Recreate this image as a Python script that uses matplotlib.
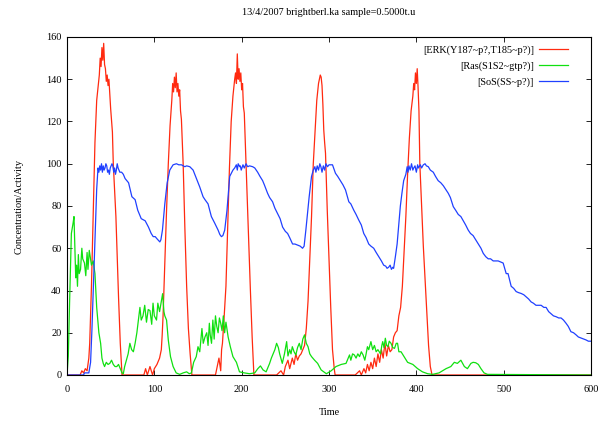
import numpy as np
import matplotlib
matplotlib.use("Agg")
import matplotlib.pyplot as plt

# values (time, level)
erk_t = [0, 15, 17, 19, 21, 23, 25, 26, 28, 30, 32, 34, 36, 37, 38, 39, 40, 41, 42, 43, 44, 45, 46, 47, 48,
         50, 52, 53, 56, 59, 61, 63,
         88, 90, 92, 95, 98, 100, 103, 106, 108, 109, 110, 112, 114, 116, 118, 120, 121, 122, 123, 124, 125,
         126, 127, 128, 129, 130, 131, 132, 133, 135, 137, 139, 141, 143,
         165, 170, 172, 174, 176, 177, 178, 180, 182, 184, 186, 188, 190, 192, 193, 194, 195, 196, 197, 198,
         199, 200, 201, 202, 203, 205, 207.5, 210, 212, 214,
         240, 245, 248, 250, 253, 255, 258, 260, 262, 264, 266, 268, 270, 272, 274, 276, 278, 280, 282, 284,
         286, 288, 289, 290, 291, 292, 293, 294, 295, 296, 298, 300, 302, 304, 306, 307,
         330, 335, 337, 340, 342, 344, 346, 348, 350, 352, 354, 356, 358, 360, 362, 364, 366, 368, 370, 372,
         374, 376, 378, 380, 382, 384, 386, 388, 390, 392, 394, 396, 397, 398, 399, 400, 401, 402, 403,
         404, 406, 408, 410, 412, 414, 416, 418, 600]
erk_v = [0, 0, 2, 1, 3, 2, 8, 15, 42, 75, 110, 130, 138, 142, 150, 146, 155, 149, 157, 147, 145, 139, 142, 137, 140,
         126, 115, 100, 75, 37, 15, 0,
         0, 3, 0, 4, 0, 3, 5, 8, 12, 19, 28, 53, 78, 100, 118, 130, 138, 134, 141, 136, 143,
         134, 138, 132, 135, 125, 121, 110, 100, 69, 42, 22, 10, 0,
         0, 0, 4, 8, 2, 12, 15, 28, 42, 70, 98, 120, 132, 140, 143, 138, 152, 140, 145, 139,
         143, 135, 138, 127, 124, 100, 69, 40, 18, 0,
         0, 2, 0, 4, 7, 3, 8, 5, 10, 7, 9, 10, 12, 14, 22, 35, 55, 75, 100, 115,
         130, 138, 140, 142, 141, 137, 128, 116, 110, 105, 78, 55, 32, 12, 3, 0,
         0, 2, 0, 3, 1, 5, 2, 6, 3, 8, 4, 10, 6, 12, 8, 15, 9, 14, 11, 12,
         18, 20, 21, 28, 32, 42, 58, 75, 95, 112, 125, 132, 138, 135, 143, 138, 145, 136, 125,
         100, 80, 61, 45, 28, 14, 4, 0, 0]

ras_t = [0, 1.5, 3, 5, 7, 8, 9, 10, 11, 12, 13, 14, 15.5, 17, 18, 20, 21.5, 23, 24, 25.5, 27, 28, 30, 32, 34,
         36.5, 38.5, 40, 41.5, 43, 45, 47, 49, 51, 53, 55, 57, 59, 61, 63, 64.5,
         66, 68, 70, 72, 74, 76, 78, 80, 82, 83.5, 85, 87, 89, 91, 93, 95, 97, 98.5, 100, 102.5, 104,
         106, 108, 109.5, 111, 112, 114, 116, 118.5, 121.5, 125, 129, 133, 137, 140, 142.5,
         145, 148, 150, 152, 154.5, 156, 158, 160, 161.5, 163, 164, 165.5, 167, 168.5, 170, 171.5, 173,
         174.5, 176, 177.5, 179, 180.5, 182, 184.5, 187, 190, 194, 197.5, 203, 209, 215, 218.5, 221.5,
         224.5, 228, 232, 234, 236, 238, 240, 242, 243.5, 246.5, 249, 251.5, 253, 255, 256.5, 258,
         260, 262, 264, 266, 268, 270, 272, 274, 276, 278, 280, 283.5, 287, 291, 297, 302.5, 308,
         314, 319.5, 322, 323.5, 325, 327, 329, 331, 333, 335, 337, 339, 341, 342.5, 344, 345.5, 348,
         350, 352, 354, 356, 359, 360.5, 361.5, 363, 364.5, 366, 367.5, 369, 371, 373, 375, 377, 378.5,
         380, 382.5, 386, 390, 396, 401.5, 407, 413, 418.5, 426, 434, 439.5, 443.5, 447, 451, 455,
         458.5, 462.5, 465, 468, 471, 474, 477.5, 481.5, 600]
ras_v = [0, 9, 35, 67, 72, 75, 60, 46, 52, 42, 57, 48, 50, 60, 55, 53, 47, 58, 50, 59, 55, 52, 54, 48, 32,
         20, 15, 8, 5.5, 4, 6, 5, 5.5, 7, 5, 4, 4, 5, 3, 1, 0.6,
         4, 7, 10, 15, 12, 11, 15, 20, 27, 32, 26, 28, 33, 25, 31, 30.5, 24, 34, 28, 26, 34,
         30, 35, 38.5, 30, 28, 26, 16.5, 8.7, 4, 1, 0.3, 1, 1.5, 0.6, 1,
         6, 8.7, 13.4, 11, 22, 15, 18, 20, 14, 24.5, 19, 15, 26, 17, 28, 23, 20,
         27, 24.5, 21, 28, 20, 25, 18, 13.4, 8.7, 6, 1.5, 1, 0.6, 1, 3, 4.3,
         2.4, 1.5, 5.5, 8, 10, 12, 15, 13, 10, 5.5, 10, 15.8, 9, 12, 10, 13.4,
         11, 9.5, 13, 15, 12, 17, 19, 15, 13.4, 10, 8.7, 7, 5.5, 2.4, 0.6, 2, 4,
         5, 5.5, 8, 9.5, 7, 10, 9.5, 8, 10, 8.7, 11, 9.5, 7, 10, 13.4, 12, 15.8,
         12, 14, 11, 12, 10, 14, 15.8, 13, 17.4, 14, 13.4, 16, 15, 13, 12.6, 15, 15,
         11, 11, 8.7, 6, 5, 3, 1.5, 0.6, 0.3, 1, 3, 4, 6, 5.5, 7, 4,
         3, 5.5, 6, 5.8, 5, 3, 1, 0.3, 0]

sos_t = [0, 19, 20, 25, 27, 28.5, 30.5, 32.5, 34, 35.5, 36.5, 37.5, 38.5, 39.5, 40.5, 41.5, 42.5, 43.5, 44.5,
         45.5, 46.5, 47.5, 48.5, 49.5, 50.5, 51.5, 52.5, 53.5, 54.5, 55.5, 56.5, 57.5, 58.5, 59.5, 60.5, 62.5,
         64.5, 66.5, 70.5, 74.3, 78, 81, 85, 89.5, 93.3, 96.4, 98.7, 101, 103, 106.3, 107.5, 109.3, 112,
         114.7, 117.7, 121.5, 125.3, 128, 131, 134.9, 137, 140.6, 144.4, 148.2, 152, 155.8, 158, 161.5,
         165.3, 169, 173, 175, 176.8, 178.5, 180.6, 183.2, 186.3, 190, 192, 193.9, 195, 196, 197.7, 198.5,
         199.5, 201.5, 203, 205, 206.9, 209, 212.6, 215, 218.3, 221, 224, 226, 229.7, 232, 235.4,
         238, 241, 244, 246.9, 250, 252.6, 255, 258.3, 261, 264, 267, 269.7, 271.5, 273.5, 277.3, 280,
         282, 283.8, 285, 286.5, 288, 289.5, 290.7, 292, 293.5, 295, 296.5, 298.3, 300, 301.7, 304,
         307.4, 310, 313, 316, 318.9, 322.7, 325, 328.4, 331, 334, 337, 339.8, 342.5, 345.5, 348,
         351.2, 354, 357, 360, 362.6, 365, 366.5, 368.3, 370, 371.5, 373, 374, 376, 378, 381.7, 383.5,
         385.5, 388, 389.5, 390.5, 391.5, 393, 394.5, 396, 397, 398.5, 400, 401.5, 402.3, 404.6, 406,
         408, 410, 411.5, 413.7, 416, 419.4, 422, 425, 428, 430.9, 433.5, 436.6, 439, 442.3, 445,
         448, 451, 453.7, 456.5, 459.4, 462, 465, 468, 470.9, 474, 476.6, 479.5, 482.3, 485, 488,
         491, 493.7, 496.5, 499.4, 502.9, 505, 508.6, 511.5, 514.3, 517, 520, 523, 525.7, 528.5,
         531.4, 534, 537, 540, 542.9, 546, 548.6, 551.5, 554.3, 557, 560, 563, 565.7, 568.5,
         571.4, 574, 577, 580, 582.9, 585.5, 588.6, 591.5, 594.3, 597, 600]
sos_v = [0, 0, 1, 1, 6, 21, 45, 69, 88, 98, 96, 99, 97, 100, 96, 99, 97, 98, 100,
         99, 96, 97, 95, 98, 99, 100, 99, 96, 98, 95, 97, 100, 98, 97, 96, 96,
         95, 93, 91, 84.4, 83, 78, 74, 73, 70, 67, 65.5, 65.5, 64.5, 63, 64, 68.6, 81,
         91, 97, 99.5, 100, 99.5, 99.5, 98.6, 99, 98.6, 97, 93, 89, 84.4, 83, 81,
         75, 72, 68.6, 66.5, 65.5, 66, 68.6, 78, 94, 97, 98, 99.5, 97, 100, 98.6, 99,
         97, 99.5, 98, 100, 98.6, 99, 98.6, 98, 96, 94, 92, 90, 86, 84, 82,
         79, 76.5, 74, 70, 68, 67, 65, 62, 62, 61.5, 61, 60, 61, 68.6, 84.4, 94,
         97, 98.6, 96, 99, 97, 100, 98.6, 96, 99, 97, 100, 98.6, 99.5, 99.5, 99.5,
         95.5, 94, 92, 90, 87.6, 82, 81, 78, 76, 73.4, 71, 67, 65, 62, 61,
         60, 58, 56, 54, 52, 51.5, 50.5, 51, 52, 50, 51, 50.5, 56, 62, 80, 86,
         92, 95, 98.6, 96, 99, 97, 100, 97, 98, 99, 96, 99.5, 98, 99.5, 98,
         99.5, 100, 99, 98.6, 97, 96, 94, 92, 91, 89.6, 88, 86, 84, 79.7, 78,
         76, 75, 73, 71, 68.6, 67, 66, 64, 62, 60, 57.6, 56, 55, 55, 54,
         54, 54, 53.5, 53, 48, 48, 42, 41, 39.5, 39, 38.6, 38, 37, 36,
         34.6, 34, 33, 33, 33, 32, 32, 30, 29, 28, 27.6, 27, 27, 26,
         24.5, 23, 20.5, 20, 19, 18, 17.5, 17, 16.6, 16, 16]

plt.rcParams['font.family'] = ['Liberation Serif', 'DejaVu Serif']
fs = 7.4
plt.rcParams['font.size'] = fs

fig = plt.figure(figsize=(5.98, 4.21), dpi=100)
ax = fig.add_axes([67 / 598, 46 / 421, 524 / 598, 338 / 421])

lw = 0.9
e, = ax.plot(erk_t, erk_v, color='#ff2a10', lw=lw)
r, = ax.plot(ras_t, ras_v, color='#10e010', lw=lw)
s, = ax.plot(sos_t, sos_v, color='#2040ff', lw=lw)
e.set_label('[ERK(Y187~p?,T185~p?)]')
r.set_label('[Ras(S1S2~gtp?)]')
s.set_label('[SoS(SS~p?)]')

ax.set_xlim([0, 600])
ax.set_ylim([0, 160])
ax.set_xticks(np.arange(0, 601, 100))
ax.set_yticks(np.arange(0, 161, 20))
ax.tick_params(direction='in', top=True, right=True, length=3.5, width=0.6, labelsize=fs)
ax.tick_params(axis='x', pad=7)
ax.tick_params(axis='y', pad=4)
for sp in ax.spines.values():
    sp.set_linewidth(0.8)

ax.set_xlabel('Time', fontsize=fs, labelpad=10)
ax.set_ylabel('Concentration/Activity', fontsize=fs, labelpad=16)
ax.set_title('13/4/2007 brightberl.ka sample=0.5000t.u', fontsize=fs, pad=16)

leg = ax.legend(loc='upper right', bbox_to_anchor=(1 - 19 / 524, 1 - 4 / 338), frameon=False,
                markerfirst=False, handlelength=2.8, handletextpad=0.5, labelspacing=0.62,
                fontsize=fs, borderaxespad=0)
for t in leg.get_texts():
    t.set_ha('right')

fig.savefig('out.png', dpi=100)
